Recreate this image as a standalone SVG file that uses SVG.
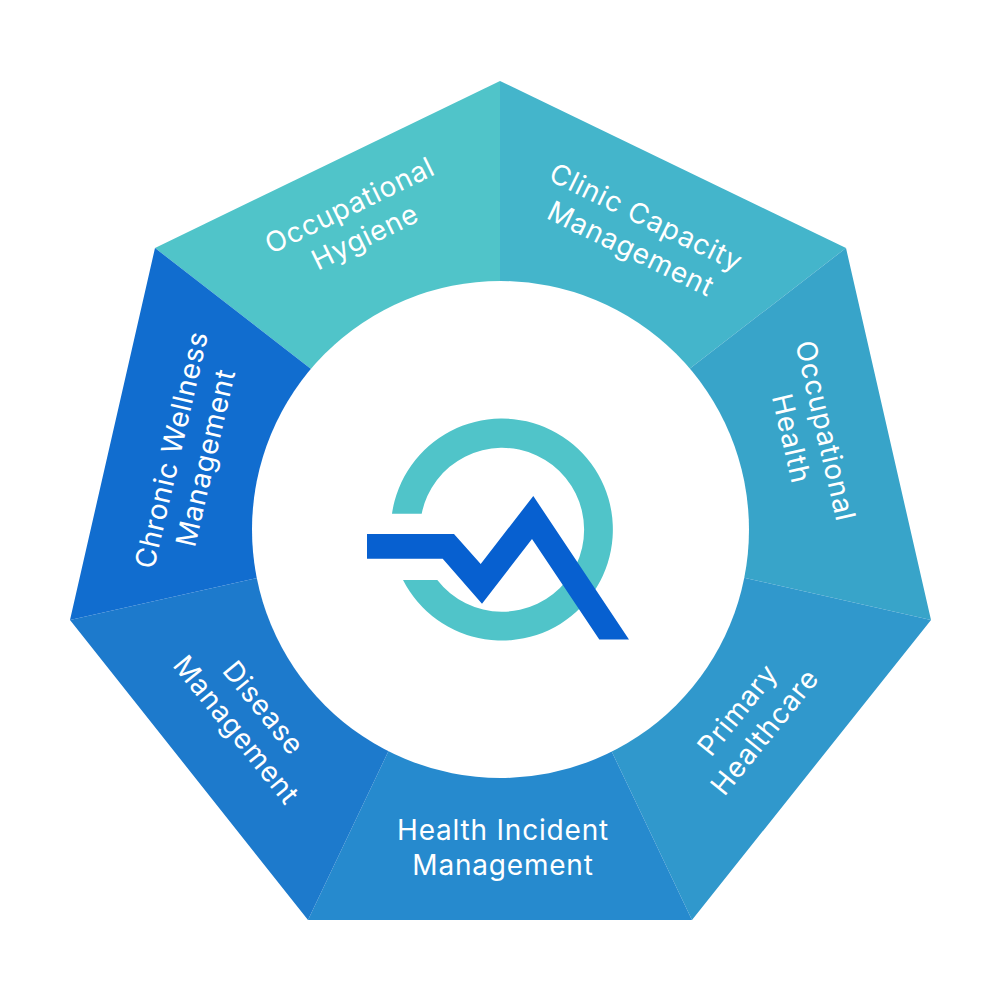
<svg xmlns="http://www.w3.org/2000/svg" width="1000" height="1000" viewBox="0 0 1000 1000">
<style>
.t{font-family:"Inter","Noto Sans",sans-serif;font-size:28px;fill:#fff;text-anchor:middle;letter-spacing:.8px}
</style>
<rect width="1000" height="1000" fill="#fff"/>
<g id="seg-hygiene"><polygon points="500,81 500,500 400,438 155,248" fill="#50c4c9"/><text class="t" transform="translate(354,214) rotate(-26)"><tspan x="0" y="0">Occupational</tspan><tspan x="0" y="35">Hygiene</tspan></text></g>
<g id="seg-clinic"><polygon points="500,81 846,248 600,438 500,500" fill="#44b5cb"/><text class="t" transform="translate(642,226) rotate(26)"><tspan x="0" y="0">Clinic Capacity</tspan><tspan x="0" y="35">Management</tspan></text></g>
<g id="seg-occ-health"><polygon points="846,248 931,620 600,545 500,500 600,438" fill="#38a4c9"/><text class="t" transform="translate(816,433) rotate(77)"><tspan x="0" y="0">Occupational</tspan><tspan x="0" y="35">Health</tspan></text></g>
<g id="seg-primary"><polygon points="931,620 692,920 540,601 500,500 600,545" fill="#3098cc"/><text class="t" transform="translate(745,716) rotate(-51)"><tspan x="0" y="0">Primary</tspan><tspan x="0" y="35">Healthcare</tspan></text></g>
<g id="seg-incident"><polygon points="692,920 308,920 460,601 500,500 540,601" fill="#268ace"/><text class="t"><tspan x="503" y="840">Health Incident</tspan><tspan x="503" y="875">Management</tspan></text></g>
<g id="seg-disease"><polygon points="308,920 70,620 400,546 500,500 460,601" fill="#1d7acc"/><text class="t" transform="translate(256,714) rotate(51)"><tspan x="0" y="0">Disease</tspan><tspan x="0" y="35">Management</tspan></text></g>
<g id="seg-chronic"><polygon points="70,620 155,248 400,438 500,500 400,546" fill="#116dcf"/><text class="t" transform="translate(181,452) rotate(-77)"><tspan x="0" y="0">Chronic Wellness</tspan><tspan x="0" y="35">Management</tspan></text></g>
<g id="center"><circle cx="500.5" cy="529.5" r="248.5" fill="#fff"/></g>
<g id="logo">
<path d="M392,513.7 A111,111 0 1 1 403,580 H437.3 A82,82 0 1 0 421.7,513.7 Z" fill="#50c4c9"/>
<path d="M367,534 H454 L480.7,564 L533.3,496 L629,639.5 H599.3 L532,539 L482,603.7 L442.7,558.7 H367 Z" fill="#0760d0"/>
</g>
</svg>
